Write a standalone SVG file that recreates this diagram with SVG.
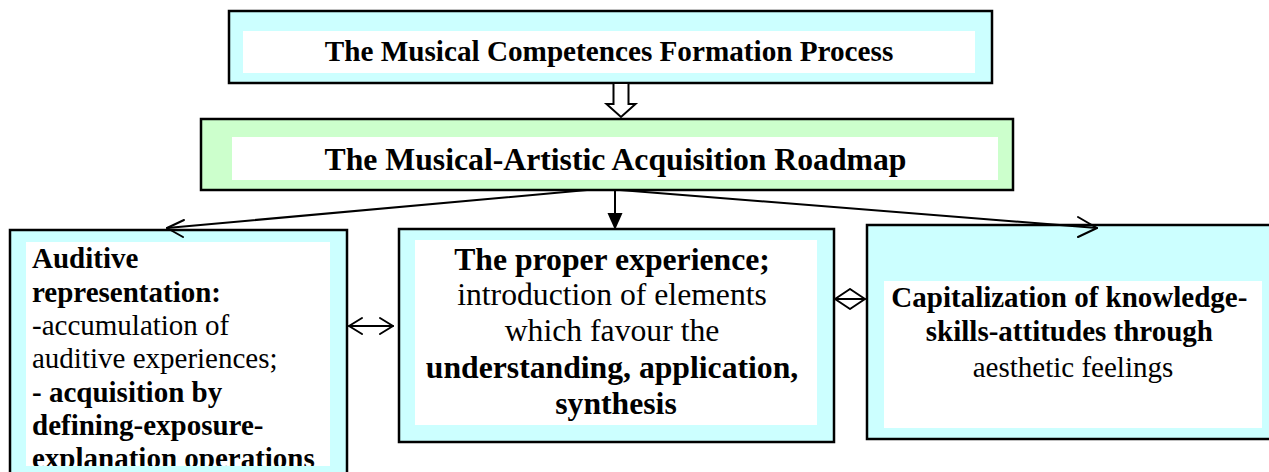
<svg xmlns="http://www.w3.org/2000/svg" width="1269" height="472" viewBox="0 0 1269 472">
<style>
.box{stroke:#000;stroke-width:2.5}
.cyan{fill:#ccffff}
.green{fill:#ccffcc}
.inner{fill:#fff}
.t{font-family:"Liberation Serif","Times New Roman",serif;fill:#000}
.b{font-weight:bold}
.conn{stroke:#000;stroke-width:2;fill:none;stroke-linecap:round;stroke-linejoin:round}
</style>
<defs>
<clipPath id="clipLeft"><rect x="26" y="242" width="304" height="224"/></clipPath>
</defs>
<rect width="1269" height="472" fill="#fff"/>

<g id="node-process">
<rect class="box cyan" x="229" y="11" width="763" height="72"/>
<rect class="inner" x="243" y="31" width="732" height="42"/>
<text class="t b" x="609" y="61" font-size="29.2" text-anchor="middle">The Musical Competences Formation Process</text>
</g>

<g id="node-roadmap">
<rect class="box green" x="201" y="119" width="812" height="71"/>
<rect class="inner" x="232" y="137" width="766" height="43"/>
<text class="t b" x="615.5" y="170" font-size="31.7" text-anchor="middle">The Musical-Artistic Acquisition Roadmap</text>
</g>

<g id="node-auditive">
<rect class="box cyan" x="10" y="230" width="337" height="260"/>
<rect class="inner" x="26" y="242" width="304" height="224"/>
<g clip-path="url(#clipLeft)">
<text class="t" font-size="29" x="32">
<tspan class="b" x="32" y="268">Auditive</tspan>
<tspan class="b" x="32" y="302">representation:</tspan>
<tspan x="32" y="335">-accumulation of</tspan>
<tspan x="32" y="368">auditive experiences;</tspan>
<tspan class="b" x="32" y="402">- acquisition by</tspan>
<tspan class="b" x="32" y="435">defining-exposure-</tspan>
<tspan class="b" x="32" y="468">explanation operations</tspan>
</text>
</g>
</g>

<g id="node-experience">
<rect class="box cyan" x="399" y="229" width="435" height="213"/>
<rect class="inner" x="415" y="240" width="402" height="185"/>
<text class="t" font-size="31.7" text-anchor="middle">
<tspan class="b" x="616" y="270">The proper experience;</tspan>
<tspan x="616" y="305">introduction of elements</tspan>
<tspan x="616" y="341">which favour  the</tspan>
<tspan class="b" x="616" y="378">understanding, application,</tspan>
<tspan class="b" x="616" y="414">synthesis</tspan>
</text>
</g>

<g id="node-capitalization">
<rect class="box cyan" x="867" y="225" width="420" height="214"/>
<rect class="inner" x="884" y="281" width="378" height="147"/>
<text class="t" font-size="29" text-anchor="middle">
<tspan class="b" x="1073" y="307">Capitalization of knowledge-</tspan>
<tspan class="b" x="1073" y="341">skills-attitudes through</tspan>
<tspan x="1073" y="377">aesthetic feelings</tspan>
</text>
</g>

<g id="connectors">
<path d="M613.5 83 L628.5 83 L628.5 104 L635.5 104 L621 117 L606.5 104 L613.5 104 Z" fill="#fff" stroke="#000" stroke-width="2" stroke-linejoin="miter"/>
<line class="conn" x1="615" y1="190" x2="615" y2="214"/>
<path d="M607.5 213 L622.5 213 L615 230 Z" fill="#000"/>
<line class="conn" x1="587" y1="190" x2="167" y2="228"/>
<polyline class="conn" points="184,220 167,228 183,237"/>
<line class="conn" x1="620" y1="190" x2="1097" y2="228"/>
<polyline class="conn" points="1078,217 1097,228 1078,237"/>
<line class="conn" x1="349" y1="326" x2="393" y2="326"/>
<polyline class="conn" points="362,318 349,326 362,334"/>
<polyline class="conn" points="380,318 393,326 380,334"/>
<line class="conn" x1="835" y1="299" x2="865" y2="299"/>
<polyline class="conn" points="850,289 835,299 850,309 865,299 850,289"/>
</g>
</svg>
